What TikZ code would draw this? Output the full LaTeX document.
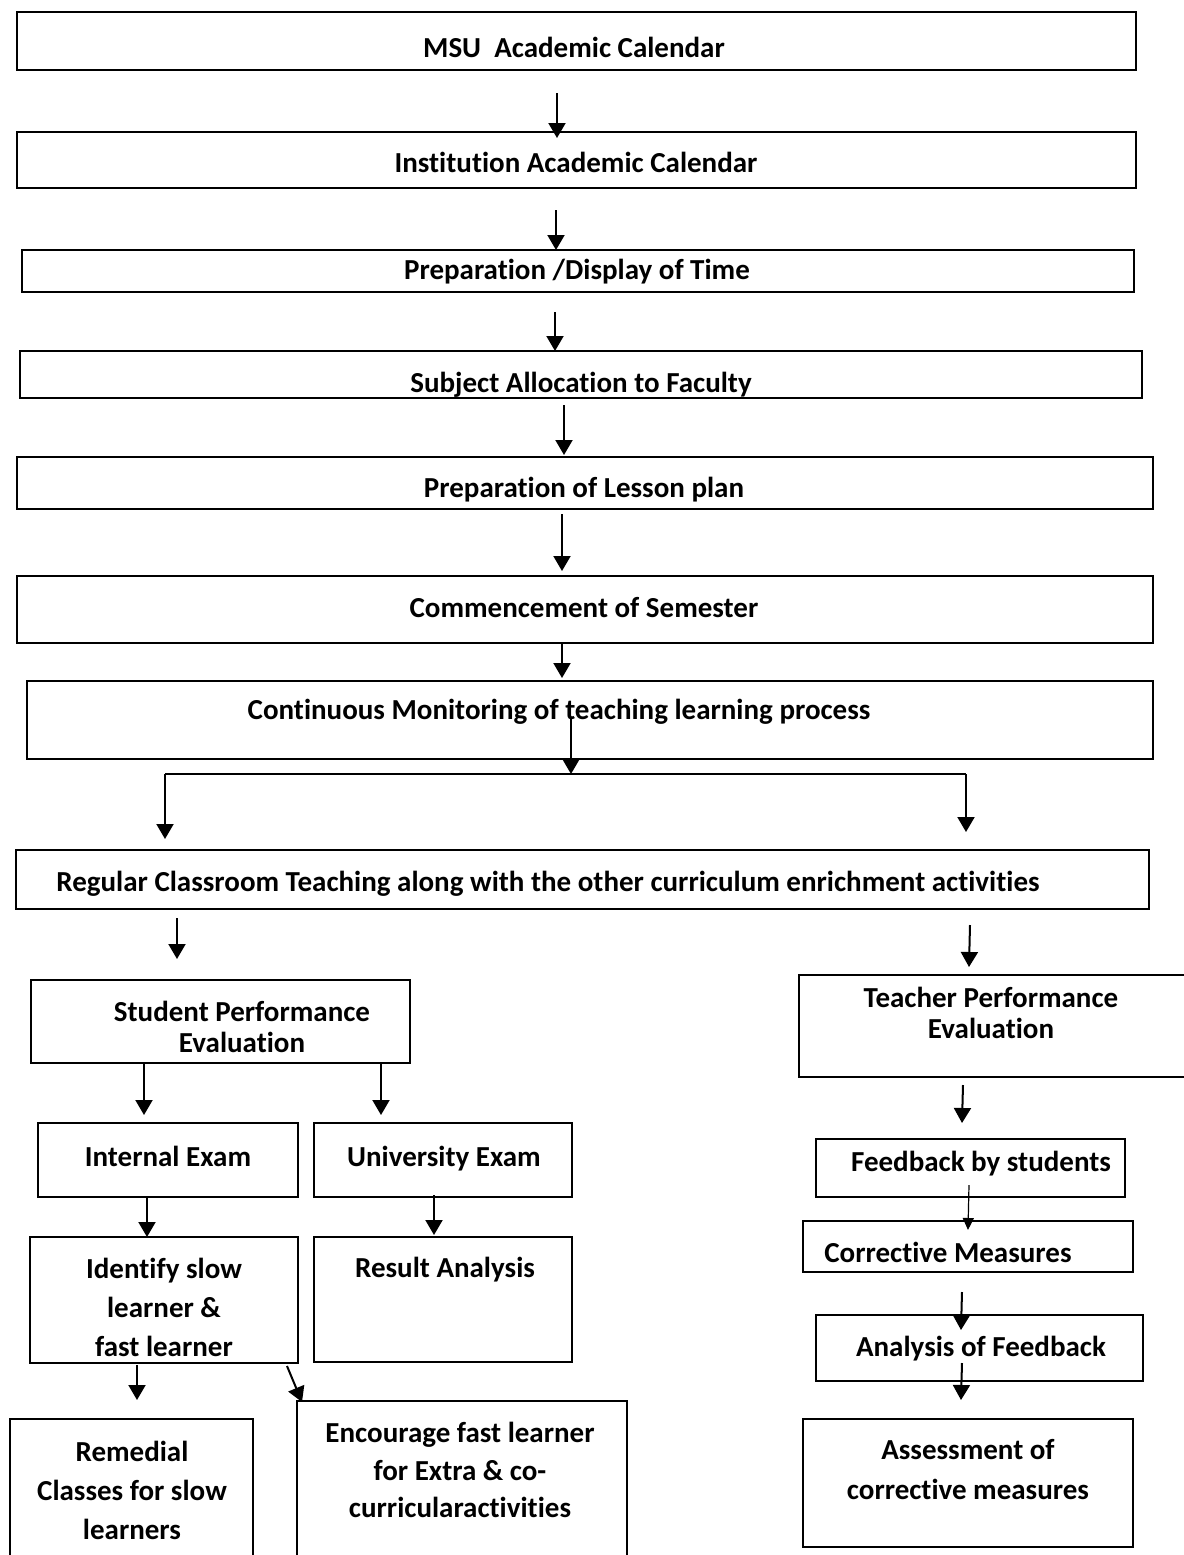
\documentclass[tikz,border=0pt]{standalone}
\usepackage{fontspec}
\setmainfont{Carlito}[Ligatures={NoCommon,NoContextual}]
\usetikzlibrary{arrows.meta,fit}
\begin{document}
\begin{tikzpicture}[x=0.5pt,y=-0.5pt,
  box/.style={draw=black, line width=1.1pt, inner sep=0pt},
  lbl/.style={inner sep=0pt, align=center, font=\bfseries\fontsize{14.5}{19.5}\selectfont},
  lbl1/.style={lbl, text height=0.72em, text depth=0.22em},
  lblt/.style={inner sep=0pt, align=center, font=\bfseries\fontsize{14.5}{15.5}\selectfont},
  lblm/.style={inner sep=0pt, align=center, font=\bfseries\fontsize{14.5}{18.75}\selectfont},
  lblw/.style={inner sep=0pt, align=center, font=\bfseries\fontsize{14.5}{20}\selectfont},
  arr/.style={draw=black, line width=1pt, -{Triangle[width=8.5pt,length=7.5pt]}},
  thinarr/.style={draw=black, line width=0.6pt, -{Triangle[width=5.5pt,length=6pt]}},
  plainline/.style={draw=black, line width=1pt}]
\useasboundingbox (0,0) rectangle (1184,1555);
\clip (0,0) rectangle (1184,1555);
\fill[white] (0,0) rectangle (1184,1555);

% boxes
\node[box, fit={(17,12) (1136,70)}] (b1) {};
\node[box, fit={(17,132) (1136,188)}] (b2) {};
\node[box, fit={(22,250) (1134,292)}] (b3) {};
\node[box, fit={(20,351) (1142,398)}] (b4) {};
\node[box, fit={(17,457) (1153,509)}] (b5) {};
\node[box, fit={(17,576) (1153,643)}] (b6) {};
\node[box, fit={(27,681) (1153,759)}] (b7) {};
\node[box, fit={(16,850) (1149,909)}] (b8) {};
\node[box, fit={(31,980) (410,1063)}] (spe) {};
\node[box, fit={(799,975) (1200,1077)}] (tpe) {};
\node[box, fit={(38,1123) (298,1197)}] (ie) {};
\node[box, fit={(314,1123) (572,1197)}] (ue) {};
\node[box, fit={(30,1237) (298,1363)}] (idf) {};
\node[box, fit={(314,1237) (572,1362)}] (ra) {};
\node[box, fit={(10,1419) (253,1575)}] (rem) {};
\node[box, fit={(297,1401) (627,1575)}] (enc) {};
\node[box, fit={(816,1139) (1125,1197)}] (fb) {};
\node[box, fit={(803,1221) (1133,1272)}] (cm) {};
\node[box, fit={(816,1315) (1143,1381)}] (af) {};
\node[box, fit={(803,1419) (1133,1547)}] (ac) {};

% texts
\node[lbl1] (t1) at (574,52) {MSU\ \ Academic Calendar};
\node[lbl1] (t2) at (576,167) {Institution Academic Calendar};
\node[lbl1] (t3) at (577,274) {Preparation /Display of Time};
\node[lbl1] (t4) at (581,387) {Subject Allocation to Faculty};
\node[lbl1] (t5) at (584,492) {Preparation of Lesson plan};
\node[lbl1] (t6) at (584,612) {Commencement of Semester};
\node[lbl1] (t7) at (559,714) {Continuous Monitoring of teaching learning process};
\node[lbl1] (t8) at (548,886) {Regular Classroom Teaching along with the other curriculum enrichment activities};
\node[lblt] (t9) at (242,1027) {Student Performance\\Evaluation};
\node[lblt] (t10) at (991,1013) {Teacher Performance\\Evaluation};
\node[lbl1] (t11) at (168,1161) {Internal Exam};
\node[lbl1] (t12) at (444,1161) {University Exam};
\node[lbl] (t13) at (164,1307) {Identify slow\\learner \&\\fast learner};
\node[lbl1] (t14) at (445,1272) {Result Analysis};
\node[lbl] (t15) at (132,1490) {Remedial\\Classes for slow\\learners};
\node[lblm] (t16) at (460,1470) {Encourage fast learner\\for Extra \& co-\\curricularactivities};
\node[lbl1] (t17) at (981,1166) {Feedback by students};
\node[lbl1] (t18) at (948,1257) {Corrective Measures};
\node[lbl1] (t19) at (981,1351) {Analysis of Feedback};
\node[lblw] (t20) at (968,1470) {Assessment of\\corrective measures};

% arrow end points
\coordinate (a1s) at (557,93);   \coordinate (a1e) at (557,138);
\coordinate (a2s) at (556,210);  \coordinate (a2e) at (556,250);
\coordinate (a3s) at (555,312);  \coordinate (a3e) at (555,351);
\coordinate (a4s) at (564,405);  \coordinate (a4e) at (564,455);
\coordinate (a5s) at (562,514);  \coordinate (a5e) at (562,571);
\coordinate (a6s) at (562,643);  \coordinate (a6e) at (562,678);
\coordinate (a7s) at (571,718);  \coordinate (br)  at (571,774);
\coordinate (brl) at (165,774);  \coordinate (brr) at (966,774);
\coordinate (brle) at (165,839); \coordinate (brre) at (966,832);
\coordinate (a8ls) at (177,918); \coordinate (a8le) at (177,959);
\coordinate (a8rs) at (970,925); \coordinate (a8re) at (969,967);
\coordinate (s1s) at (144,1063); \coordinate (s1e) at (144,1115);
\coordinate (s2s) at (381,1063); \coordinate (s2e) at (381,1115);
\coordinate (i1s) at (147,1197); \coordinate (i1e) at (147,1237);
\coordinate (u1s) at (434,1195); \coordinate (u1e) at (434,1235);
\coordinate (d1s) at (137,1365); \coordinate (d1e) at (137,1400);
\coordinate (d2s) at (287,1366); \coordinate (d2e) at (302,1402);
\coordinate (r1s) at (963,1085); \coordinate (r1e) at (962,1123);
\coordinate (r2s) at (969,1185); \coordinate (r2e) at (968,1230);
\coordinate (r3s) at (962,1292); \coordinate (r3e) at (961,1330);
\coordinate (r4s) at (962,1363); \coordinate (r4e) at (961,1400);

% connectors
\draw[arr] (a1s) -- (a1e);
\draw[arr] (a2s) -- (a2e);
\draw[arr] (a3s) -- (a3e);
\draw[arr] (a4s) -- (a4e);
\draw[arr] (a5s) -- (a5e);
\draw[arr] (a6s) -- (a6e);
\draw[arr] (a7s) -- (br);
\draw[plainline] (brl) -- (brr);
\draw[arr] (brl) -- (brle);
\draw[arr] (brr) -- (brre);
\draw[arr] (a8ls) -- (a8le);
\draw[arr] (a8rs) -- (a8re);
\draw[arr] (s1s) -- (s1e);
\draw[arr] (s2s) -- (s2e);
\draw[arr] (i1s) -- (i1e);
\draw[arr] (u1s) -- (u1e);
\draw[arr] (d1s) -- (d1e);
\draw[arr] (d2s) -- (d2e);
\draw[arr] (r1s) -- (r1e);
\draw[thinarr] (r2s) -- (r2e);
\draw[arr] (r3s) -- (r3e);
\draw[arr] (r4s) -- (r4e);
\end{tikzpicture}
\end{document}
